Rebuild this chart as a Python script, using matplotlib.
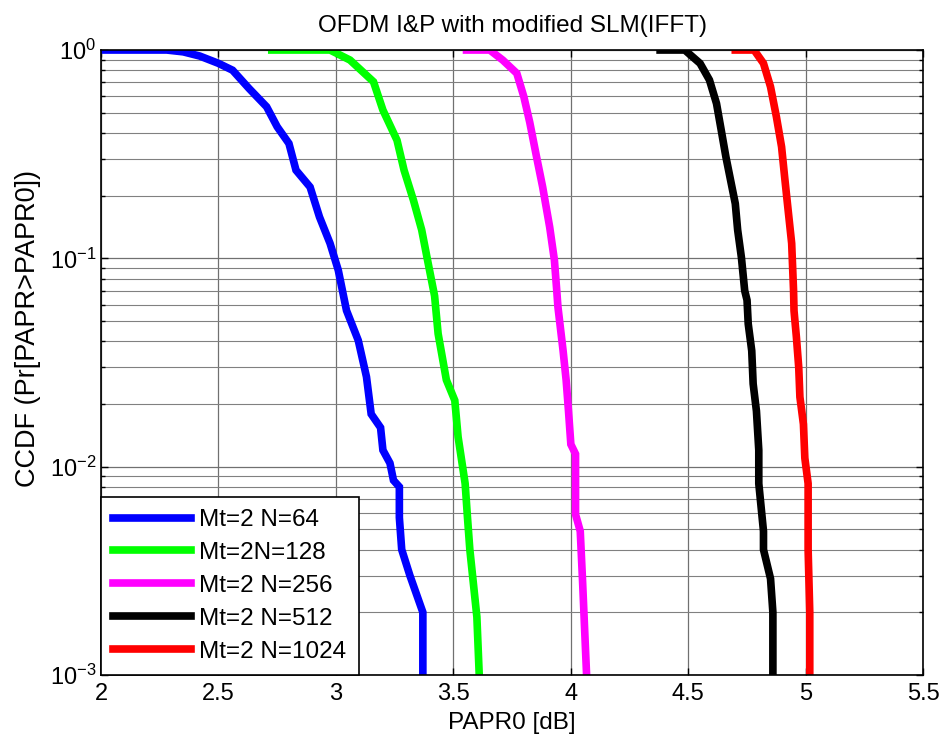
import matplotlib.pyplot as plt
from matplotlib.ticker import LogLocator, NullFormatter

plt.rcParams['font.family'] = ['Liberation Sans', 'DejaVu Sans']

labels = ['Mt=2 N=64', 'Mt=2N=128', 'Mt=2 N=256', 'Mt=2 N=512', 'Mt=2 N=1024']
colors = ['#0000ff', '#00ff00', '#ff00ff', '#000000', '#ff0000']

x_n64 = [2.00, 2.28, 2.35, 2.42, 2.50, 2.56, 2.63, 2.705, 2.75, 2.80, 2.83, 2.89, 2.93,
         2.975, 3.01, 3.045, 3.095, 3.13, 3.15, 3.19, 3.20, 3.23, 3.245, 3.27, 3.27,
         3.28, 3.315, 3.37, 3.37]
y_n64 = [1, 1, 0.98, 0.936, 0.863, 0.80, 0.654, 0.534, 0.428, 0.356, 0.265, 0.220, 0.158,
         0.118, 0.0877, 0.0562, 0.0404, 0.027, 0.0179, 0.0154, 0.0120, 0.0104, 0.0086,
         0.0080, 0.0057, 0.0040, 0.0030, 0.0020, 0.001]

x_n128 = [2.727, 2.975, 3.06, 3.16, 3.20, 3.26, 3.29, 3.33, 3.365, 3.39, 3.42, 3.435,
          3.47, 3.506, 3.52, 3.55, 3.56, 3.57, 3.60, 3.61]
y_n128 = [1, 1, 0.895, 0.704, 0.515, 0.369, 0.265, 0.19, 0.137, 0.098, 0.066, 0.0435,
          0.0261, 0.0208, 0.0139, 0.0083, 0.0057, 0.0040, 0.0019, 0.001]

x_n256 = [3.556, 3.655, 3.71, 3.77, 3.80, 3.825, 3.854, 3.88, 3.91, 3.93, 3.94, 3.945,
          3.967, 3.98, 3.99, 4.00, 4.02, 4.02, 4.04, 4.05, 4.067]
y_n256 = [1, 1, 0.895, 0.773, 0.596, 0.45, 0.307, 0.22, 0.141, 0.098, 0.070, 0.0585,
          0.036, 0.026, 0.0185, 0.0128, 0.0115, 0.0059, 0.0049, 0.0028, 0.001]

x_n512 = [4.38, 4.485, 4.55, 4.59, 4.62, 4.64, 4.66, 4.68, 4.70, 4.71, 4.726, 4.74,
          4.75, 4.755, 4.77, 4.776, 4.79, 4.80, 4.80, 4.82, 4.82, 4.85, 4.86, 4.86]
y_n512 = [1, 1, 0.863, 0.718, 0.554, 0.413, 0.307, 0.237, 0.183, 0.137, 0.101, 0.070,
          0.063, 0.0485, 0.036, 0.025, 0.0185, 0.012, 0.0083, 0.0049, 0.004, 0.0029,
          0.002, 0.001]

x_n1024 = [4.70, 4.78, 4.82, 4.85, 4.875, 4.897, 4.91, 4.925, 4.94, 4.948, 4.95, 4.96,
           4.97, 4.975, 4.99, 4.996, 5.01, 5.01, 5.017, 5.017]
y_n1024 = [1, 1, 0.863, 0.666, 0.478, 0.343, 0.246, 0.17, 0.118, 0.070, 0.056, 0.042,
           0.030, 0.0216, 0.016, 0.011, 0.0083, 0.004, 0.002, 0.001]

xs = [x_n64, x_n128, x_n256, x_n512, x_n1024]
ys = [y_n64, y_n128, y_n256, y_n512, y_n1024]

fig = plt.figure(figsize=(9.44, 7.39), dpi=100)
ax = fig.add_axes([0.107, 0.0866, 0.871, 0.8457])

for x, y, c, lab in zip(xs, ys, colors, labels):
    ax.semilogy(x, y, color=c, lw=5.5, label=lab, solid_joinstyle='miter')

ax.set_xlim(2, 5.5)
ax.set_ylim(1e-3, 1)
ax.set_xticks([2, 2.5, 3, 3.5, 4, 4.5, 5, 5.5])
ax.set_xticklabels(['2', '2.5', '3', '3.5', '4', '4.5', '5', '5.5'])
ax.yaxis.set_major_locator(LogLocator(base=10, numticks=10))
ax.yaxis.set_minor_locator(LogLocator(base=10, subs=range(2, 10), numticks=20))
ax.yaxis.set_minor_formatter(NullFormatter())

ax.grid(True, which='major', color='#707070', lw=0.9)
ax.grid(True, which='minor', axis='y', color='#808080', lw=0.8)
ax.tick_params(which='both', direction='in', top=True, right=True, labelsize=17)
ax.tick_params(which='major', length=5, width=1)
ax.tick_params(which='minor', length=3, width=1)
ax.tick_params(axis='x', pad=6)
for s in ax.spines.values():
    s.set_linewidth(1.2)

ax.set_title('OFDM I&P with modified SLM(IFFT)', fontsize=17.5, pad=13)
ax.set_xlabel('PAPR0 [dB]', fontsize=17.5, labelpad=5)
ax.set_ylabel('CCDF (Pr[PAPR>PAPR0])', fontsize=19.5)
ax.yaxis.set_label_coords(-0.073, 0.554)

leg = ax.legend(loc='lower left', fontsize=17.5, handlelength=3.2, borderaxespad=0,
                fancybox=False, edgecolor='black', framealpha=1, labelspacing=0.45,
                borderpad=0.5, handletextpad=0.35)
leg.get_frame().set_linewidth(1.2)

fig.savefig('out.png', dpi=100)
